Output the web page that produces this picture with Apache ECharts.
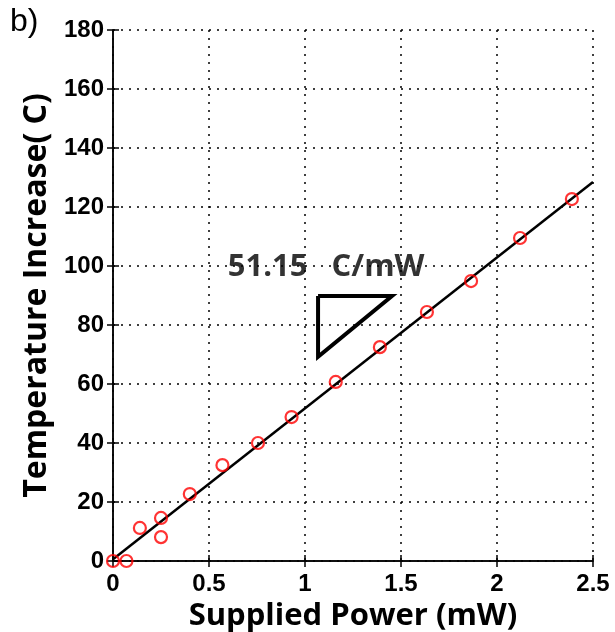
<!DOCTYPE html>
<html><head><meta charset="utf-8">
<script src="https://cdn.jsdelivr.net/npm/echarts@6/dist/echarts.min.js"></script>
<style>html,body{margin:0;padding:0;background:#fff}#c{width:615px;height:632px}</style>
</head><body><div id="c"></div>
<script>
var powerMW = [0, 0.07, 0.14, 0.25, 0.25, 0.40, 0.57, 0.755, 0.93, 1.16, 1.39, 1.635, 1.865, 2.12, 2.39];
var tempC   = [0, 0, 11.2, 14.6, 8.1, 22.7, 32.5, 40, 48.8, 60.7, 72.5, 84.4, 94.9, 109.5, 122.7];
var fitX = [0, 2.5];
var fitY = [0.6, 128.5];
var triX = [1.068, 1.453, 1.068, 1.068];
var triY = [89.8, 89.8, 69.2, 89.8];
var slopeText = '51.15   C/mW';
var slopePos = [1.11, 99.5];

function pairs(a, b){ return a.map(function(v,i){ return [v, b[i]]; }); }

var chart = echarts.init(document.getElementById('c'));
var lab = {color:'#000', fontFamily:'Liberation Sans', fontWeight:'bold', fontSize:24};
var splitDot = {show:true, lineStyle:{color:'#000', type:[2,6], width:1.5}};
chart.setOption({
  animation:false,
  graphic:[{type:'text', left:10, top:6, style:{text:'b)', fontFamily:'Liberation Sans', fontSize:32, fill:'#000'}}],
  grid:{left:113, right:22, top:30, bottom:71, containLabel:false, outerBoundsMode:'none'},
  xAxis:[{type:'value', min:0, max:2.5, interval:0.5, position:'bottom',
    name:'Supplied Power (mW)', nameLocation:'middle', nameGap:30,
    nameTextStyle:{fontFamily:'Open Sans', fontWeight:'bold', fontSize:31, color:'#000'},
    axisLine:{lineStyle:{color:'#000', width:1.5}},
    axisTick:{inside:true, length:6, lineStyle:{color:'#000', width:1.5}},
    axisLabel:Object.assign({margin:11}, lab),
    splitLine:splitDot},
   {type:'value', min:0, max:2.5, interval:0.5, position:'top',
    axisLine:{show:true, lineStyle:{color:'#000', width:1.5}},
    axisTick:{show:true, inside:true, length:6, lineStyle:{color:'#000', width:1.5}},
    axisLabel:{show:false}, splitLine:{show:false}}],
  yAxis:[{type:'value', min:0, max:180, interval:20, position:'left',
    name:'Temperature Increase( C)', nameLocation:'middle', nameGap:58,
    nameTextStyle:{fontFamily:'Open Sans', fontWeight:'bold', fontSize:32, color:'#000'},
    axisLine:{show:true, lineStyle:{color:'#000', width:1.5}},
    axisTick:{show:true, inside:true, length:6, lineStyle:{color:'#000', width:1.5}},
    axisLabel:Object.assign({margin:9}, lab),
    splitLine:splitDot},
   {type:'value', min:0, max:180, interval:20, position:'right',
    axisLine:{show:true, lineStyle:{color:'#000', width:1.5}},
    axisTick:{show:true, inside:true, length:6, lineStyle:{color:'#000', width:1.5}},
    axisLabel:{show:false}, splitLine:{show:false}}],
  series:[
    {type:'line', data:pairs(fitX, fitY), showSymbol:false, symbol:'none',
     lineStyle:{color:'#000', width:2.5}, z:3},
    {type:'scatter', data:pairs(powerMW, tempC), symbol:'circle', symbolSize:12,
     itemStyle:{color:'rgba(0,0,0,0)', borderColor:'#ff0000', borderWidth:2.2}, z:4},
    {type:'line', data:pairs(triX, triY), showSymbol:false, symbol:'none',
     lineStyle:{color:'#000', width:4, join:'miter'}, z:3},
    {type:'scatter', data:[slopePos], symbolSize:0,
     label:{show:true, formatter:slopeText, position:'inside', color:'#000',
       fontFamily:'Open Sans', fontWeight:'bold', fontSize:31}, z:5}
  ]
});
</script></body></html>
